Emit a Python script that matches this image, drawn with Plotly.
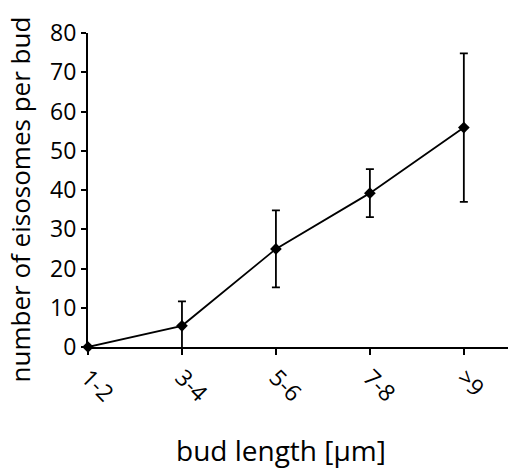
import plotly.graph_objects as go

# Bud length classes and mean eisosome counts with error (± SD)
categories = ["1-2", "3-4", "5-6", "7-8", ">9"]
mean_eisosomes = [0.0, 5.4, 25.0, 39.2, 55.9]
error = [0.0, 6.2, 9.8, 6.1, 18.9]

x_title = "bud length [μm]"
y_title = "number of eisosomes per bud"

x_pos = list(range(len(categories)))

fig = go.Figure(
    go.Scatter(
        x=x_pos,
        y=mean_eisosomes,
        mode="lines+markers",
        line=dict(color="black", width=1.8),
        marker=dict(symbol="diamond", size=9, color="black"),
        error_y=dict(type="data", array=error, visible=True,
                     color="black", thickness=1.8, width=4),
        cliponaxis=False,
        showlegend=False,
    )
)

font_family = "Open Sans, Noto Sans, sans-serif"

fig.update_layout(
    width=508,
    height=474,
    margin=dict(l=88, r=0, t=33, b=127),
    plot_bgcolor="white",
    paper_bgcolor="white",
    font=dict(family=font_family, color="black"),
    xaxis=dict(
        range=[0, 4.47],
        tickmode="array",
        tickvals=x_pos,
        ticktext=categories,
        tickangle=45,
        ticks="outside",
        ticklen=6,
        tickwidth=1.5,
        tickcolor="black",
        showline=True,
        linecolor="black",
        linewidth=2,
        showgrid=False,
        zeroline=False,
        tickfont=dict(size=23),
    ),
    yaxis=dict(
        range=[0, 80],
        tickvals=[0, 10, 20, 30, 40, 50, 60, 70, 80],
        ticks="outside",
        ticklen=5,
        tickwidth=1.5,
        tickcolor="black",
        showline=True,
        linecolor="black",
        linewidth=2,
        showgrid=False,
        zeroline=False,
        tickfont=dict(size=23),
    ),
    annotations=[
        dict(text=x_title, xref="paper", yref="paper", x=0.46, y=-0.328,
             xanchor="center", yanchor="middle", showarrow=False,
             font=dict(size=28)),
        dict(text=y_title, xref="paper", yref="paper", x=-0.162, y=0.47,
             xanchor="center", yanchor="middle", showarrow=False,
             textangle=-90, font=dict(size=26)),
    ],
)

fig.write_html("out.html")
